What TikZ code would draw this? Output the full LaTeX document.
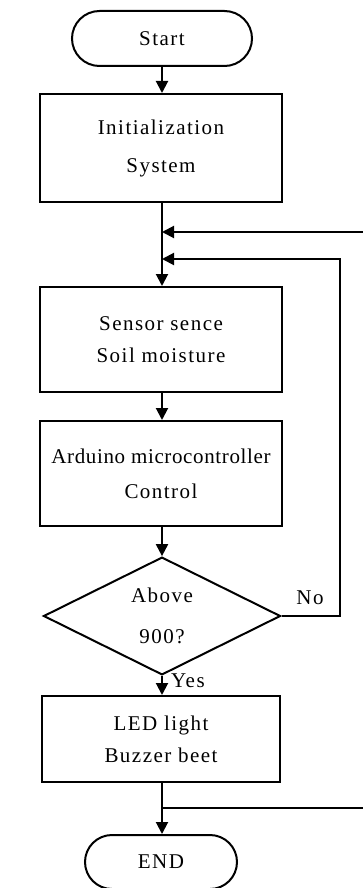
\documentclass[tikz,border=0pt]{standalone}
\usepackage{fontspec}
\setmainfont{Liberation Serif}[LetterSpace=7]
\newfontfamily\tightfont{Liberation Serif}[LetterSpace=3]
\usetikzlibrary{shapes.geometric,shapes.misc,arrows.meta}
\begin{document}
\begin{tikzpicture}[x=1pt,y=1pt,
  every node/.style={font=\fontsize{21}{25}\selectfont},
  boxn/.style={draw,line width=2pt,minimum width=242pt,inner sep=0pt,align=center},
  term/.style={draw,line width=2pt,rounded rectangle,inner sep=0pt},
  dec/.style={draw,line width=2pt,diamond,inner sep=0pt,align=center},
  conn/.style={line width=2pt},
  arr/.style={line width=2pt,-{Triangle[length=12pt,width=12pt]}}]
\useasboundingbox (0,0) rectangle (363,-888);
\node[term,minimum width=180pt,minimum height=55pt] (start) at (162,-38.5) {Start};
\node[boxn,minimum height=108pt] (init) at (161,-148) {Initialization\\[13pt]System};
\node[boxn,minimum height=105pt] (sensor) at (161,-339.5) {Sensor sence\\[7pt]Soil moisture};
\node[boxn,minimum height=105pt] (ard) at (161,-473.5) {{\tightfont Arduino microcontroller}\\[10pt]Control};
\node[dec,minimum width=237pt,minimum height=108pt] (dia) at (162,-616) {Above\\[16pt]900?};
\node[boxn,minimum width=238pt,minimum height=86pt] (led) at (161,-739) {LED light\\[7pt]Buzzer beet};
\node[term,minimum width=152pt,minimum height=54pt] (endn) at (161,-862) {END};
\node (no) at (310,-598) {No};
\node[anchor=west,inner sep=0pt] (yes) at (171,-681) {Yes};
\coordinate (j1) at (162,-232);
\coordinate (j2) at (162,-259);
\coordinate (r1) at (363,-232);
\coordinate (nx) at (340,-616);
\coordinate (j3) at (162,-808);
\coordinate (r3) at (363,-808);
\draw[arr] (start.south) -- (start.south |- init.north);
\draw[arr] (init.south -| start.south) -- (start.south |- sensor.north);
\draw[arr] (r1) -- (j1);
\draw[arr] (dia.east) -- (nx) |- (j2);
\draw[arr] (sensor.south -| start.south) -- (start.south |- ard.north);
\draw[arr] (ard.south -| start.south) -- (dia.north);
\draw[arr] (dia.south) -- (start.south |- led.north);
\draw[arr] (led.south -| start.south) -- (start.south |- endn.north);
\draw[conn] (j3) -- (r3);
\end{tikzpicture}
\end{document}
